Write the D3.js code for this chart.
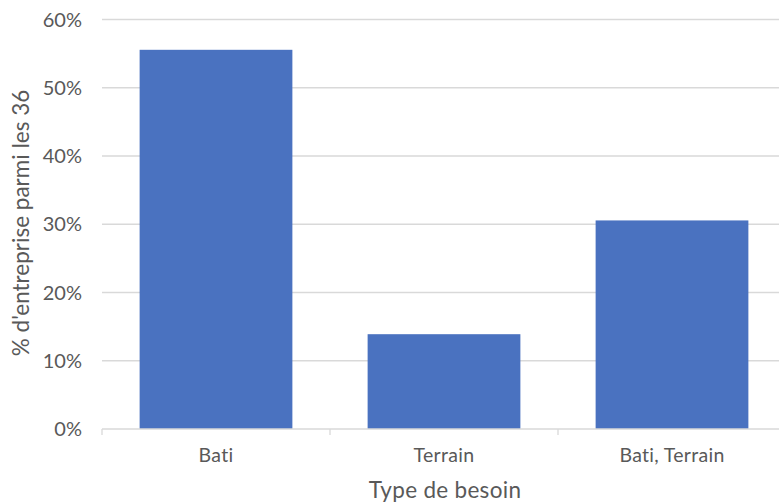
<!DOCTYPE html>
<html>
<head>
<meta charset="utf-8">
<script src="https://cdn.jsdelivr.net/npm/d3@7"></script>
<style>
  html, body { margin: 0; padding: 0; background: #fff; }
  svg { display: block; }
  text { font-family: Lato, "Open Sans", sans-serif; fill: #595959; }
</style>
</head>
<body>
<svg id="chart" width="779" height="503"></svg>
<script>
// Share of the 36 companies by type of need
const categories = ["Bati", "Terrain", "Bati, Terrain"];
const shares = [0.5556, 0.1389, 0.3056];
const yTicks = [0, 0.1, 0.2, 0.3, 0.4, 0.5, 0.6];
const yTitle = "% d'entreprise parmi les 36";
const xTitle = "Type de besoin";

const svg = d3.select("#chart");
const plotLeft = 102, plotRight = 786, plotTop = 19.5, plotBottom = 429;

const x = d3.scaleBand().domain(categories).range([plotLeft, plotRight]).paddingInner(0.33).paddingOuter(0.165);
const y = d3.scaleLinear().domain([0, 0.6]).range([plotBottom, plotTop]);

// horizontal gridlines
svg.append("g").selectAll("line").data(yTicks.filter(d => d > 0)).join("line")
  .attr("x1", plotLeft).attr("x2", plotRight)
  .attr("y1", d => y(d)).attr("y2", d => y(d))
  .attr("stroke", "#d9d9d9").attr("stroke-width", 1.3);

// bars
svg.append("g").selectAll("rect").data(categories).join("rect")
  .attr("x", d => x(d))
  .attr("width", x.bandwidth())
  .attr("y", (d, i) => y(shares[i]))
  .attr("height", (d, i) => y(0) - y(shares[i]))
  .attr("fill", "#4a72c0");

// x axis baseline and category separators
svg.append("line").attr("x1", plotLeft).attr("x2", plotRight).attr("y1", plotBottom).attr("y2", plotBottom)
  .attr("stroke", "#d9d9d9").attr("stroke-width", 1.3);
const step = x.step();
svg.append("g").selectAll("line").data(d3.range(categories.length + 1)).join("line")
  .attr("x1", i => plotLeft + i * step).attr("x2", i => plotLeft + i * step)
  .attr("y1", plotBottom).attr("y2", plotBottom + 6)
  .attr("stroke", "#d9d9d9").attr("stroke-width", 1.3);

// y tick labels
svg.append("g").selectAll("text").data(yTicks).join("text")
  .attr("x", 82).attr("y", d => y(d)).attr("dy", "0.36em")
  .attr("text-anchor", "end").attr("font-size", 20)
  .text(d3.format(".0%"));

// category labels
svg.append("g").selectAll("text").data(categories).join("text")
  .attr("x", d => x(d) + x.bandwidth() / 2).attr("y", 462)
  .attr("text-anchor", "middle").attr("font-size", 19.5).attr("letter-spacing", 0.3)
  .text(d => d);

// axis titles
svg.append("text").attr("x", 445).attr("y", 498)
  .attr("text-anchor", "middle").attr("font-size", 22.5).attr("letter-spacing", 0.3).text(xTitle);
svg.append("text")
  .attr("transform", "translate(29,223) rotate(-90)")
  .attr("text-anchor", "middle").attr("font-size", 22.5).text(yTitle);
</script>
</body>
</html>
